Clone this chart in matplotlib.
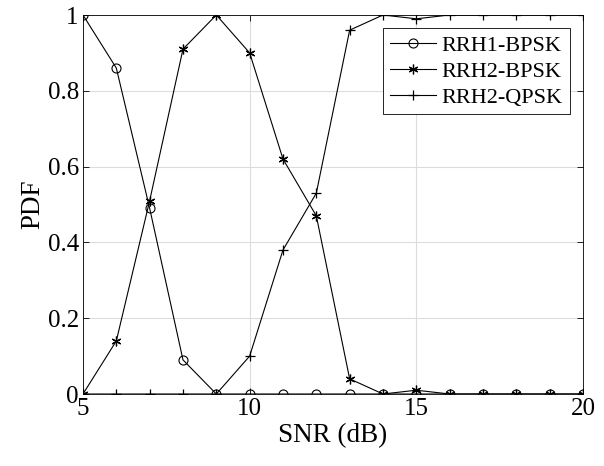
import matplotlib
matplotlib.use("Agg")
import matplotlib.pyplot as plt

# Data
snr = [5, 6, 7, 8, 9, 10, 11, 12, 13, 14, 15, 16, 17, 18, 19, 20]
rrh1_bpsk = [1.0, 0.86, 0.49, 0.09, 0, 0, 0, 0, 0, 0, 0, 0, 0, 0, 0, 0]
rrh2_bpsk = [0, 0.14, 0.51, 0.91, 1.0, 0.90, 0.62, 0.47, 0.04, 0, 0.01, 0, 0, 0, 0, 0]
rrh2_qpsk = [0, 0, 0, 0, 0, 0.10, 0.38, 0.53, 0.96, 1.0, 0.99, 1.0, 1.0, 1.0, 1.0, 1.0]
x_ticks = [5, 10, 15, 20]
y_ticks = [0, 0.2, 0.4, 0.6, 0.8, 1]
y_tick_labels = ["0", "0.2", "0.4", "0.6", "0.8", "1"]

plt.rcParams['font.family'] = ['Liberation Serif', 'DejaVu Serif']

fig = plt.figure(figsize=(6.04, 4.66), dpi=100)
ax = fig.add_axes([0.1374, 0.1545, 0.8278, 0.8133])

lw = 0.8
ax.plot(snr, rrh1_bpsk, 'k-', marker='o', markersize=6.5, markerfacecolor='none',
        markeredgewidth=0.8, linewidth=lw, label='RRH1-BPSK')
ax.plot(snr, rrh2_bpsk, 'k-', marker=(6, 2, 0), markersize=7, markeredgewidth=0.9,
        linewidth=lw, label='RRH2-BPSK')
ax.plot(snr, rrh2_qpsk, 'k-', marker='+', markersize=7, markeredgewidth=0.9,
        linewidth=lw, label='RRH2-QPSK')

ax.set_xlim(5, 20)
ax.set_ylim(0, 1)
ax.set_xticks(x_ticks)
ax.set_yticks(y_ticks)
ax.set_yticklabels(y_tick_labels)
ax.tick_params(direction='in', top=True, right=True, labelsize=18, length=4,
               width=0.6, pad=3)
ax.grid(True, color='#dcdcdc', linewidth=0.8)
ax.set_axisbelow(True)
for s in ax.spines.values():
    s.set_linewidth(0.6)

ax.set_xlabel('SNR (dB)', fontsize=19.5, labelpad=2)
ax.set_ylabel('PDF', fontsize=19.5, labelpad=2)

leg = ax.legend(loc='upper right', fontsize=16, fancybox=False, framealpha=1,
                edgecolor='black', handlelength=2.1, borderpad=0.3,
                labelspacing=0.25, handletextpad=0.25, borderaxespad=0.6)
leg.get_frame().set_linewidth(0.6)

fig.savefig('out.png', dpi=100)
